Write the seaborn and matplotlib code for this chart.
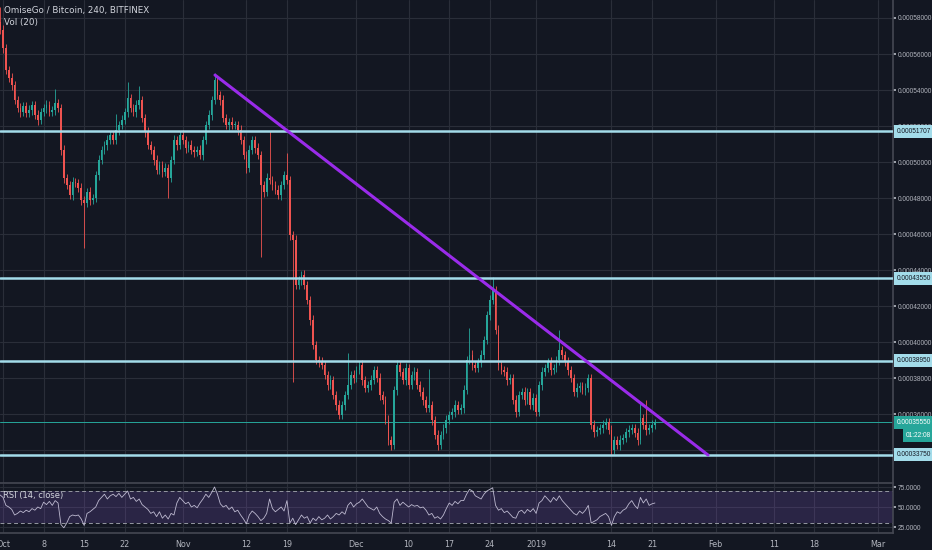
import numpy as np
import pandas as pd
import matplotlib
matplotlib.use("Agg")
import matplotlib.pyplot as plt
import matplotlib.dates as mdates
import matplotlib.transforms as mtransforms
from matplotlib import font_manager
import seaborn as sns

# 12h candles, prices in 1e-6 BTC
start = "2018-09-30 12:00"
close = [573.3, 563.3, 551.1, 546.7, 542.8, 534.4, 530.0, 527.8, 531.1, 527.2,
         528.9, 531.7, 526.1, 523.3, 527.8, 530.0, 531.7, 527.8, 528.9, 532.8,
         530.0, 506.7, 491.1, 487.2, 481.7, 488.9, 488.3, 485.6, 478.9, 477.2,
         483.3, 478.9, 480.0, 492.8, 501.1, 506.7, 509.4, 512.2, 515.0, 512.2,
         517.8, 520.6, 523.3, 527.8, 535.6, 530.0, 527.8, 531.7, 534.4, 524.4,
         516.7, 509.4, 506.7, 501.1, 495.6, 498.3, 494.4, 496.7, 491.1, 501.1,
         512.2, 509.4, 515.0, 512.2, 507.8, 509.4, 506.7, 505.6, 506.7, 503.9,
         512.2, 520.6, 526.1, 534.4, 545.6, 537.2, 534.4, 524.4, 520.6, 522.2,
         520.6, 520.6, 517.8, 512.2, 503.9, 496.7, 506.7, 512.2, 507.8, 503.9,
         487.2, 483.3, 491.1, 490.0, 487.2, 484.4, 481.7, 487.2, 492.8, 490.0,
         459.4, 456.7, 431.7, 434.4, 437.2, 431.7, 423.3, 412.2, 398.3, 390.0,
         388.9, 387.2, 381.7, 376.1, 378.9, 370.6, 365.0, 359.4, 365.0, 370.6,
         376.1, 381.7, 380.0, 384.4, 387.2, 378.9, 374.4, 376.1, 378.9, 384.4,
         380.0, 370.6, 367.8, 356.7, 345.6, 342.8, 373.3, 387.2, 383.3, 378.9,
         385.6, 376.1, 381.7, 383.3, 376.1, 372.2, 367.8, 363.3, 365.0, 356.7,
         348.3, 342.8, 348.3, 352.2, 356.7, 359.4, 361.1, 365.0, 362.2, 363.3,
         373.3, 390.0, 392.8, 387.2, 385.6, 388.9, 392.8, 401.1, 415.0, 423.3,
         428.9, 406.7, 387.2, 384.4, 383.3, 378.9, 380.0, 367.8, 361.1, 370.6,
         372.2, 367.8, 372.2, 365.0, 368.9, 361.1, 376.1, 383.3, 385.6, 388.9,
         384.4, 385.6, 390.0, 395.6, 392.8, 388.9, 384.4, 380.0, 372.2, 374.4,
         375.6, 373.3, 374.4, 380.0, 353.9, 350.0, 351.1, 352.2, 353.9, 355.6,
         351.1, 340.0, 345.6, 342.8, 345.6, 346.7, 350.0, 351.1, 352.2, 349.4,
         345.6, 357.8, 353.9, 351.1, 352.2, 353.9, 355.5]
first_open = 578.0
wick_up = [8, 3, 2, 2, 3, 2, 2, 3, 2, 2,
           3, 2, 2, 3, 2, 2, 3, 2, 2, 8,
           2, 2, 3, 2, 2, 3, 2, 2, 3, 2,
           2, 3, 2, 2, 3, 2, 2, 3, 2, 2,
           9, 2, 3, 2, 9, 2, 2, 3, 8, 2,
           2, 3, 2, 2, 3, 2, 2, 3, 2, 2,
           3, 2, 2, 3, 2, 2, 3, 2, 2, 3,
           2, 2, 3, 2, 4, 2, 2, 3, 2, 2,
           3, 2, 2, 3, 2, 2, 3, 2, 2, 3,
           2, 2, 3, 26, 2, 2, 3, 2, 2, 12,
           2, 2, 3, 2, 2, 3, 2, 2, 3, 2,
           2, 3, 2, 2, 3, 2, 2, 3, 2, 2,
           18, 2, 3, 2, 2, 3, 2, 2, 3, 2,
           2, 3, 2, 2, 3, 2, 2, 3, 2, 2,
           3, 2, 2, 3, 2, 2, 3, 2, 20, 2,
           2, 3, 2, 2, 3, 2, 2, 3, 2, 2,
           3, 2, 15, 3, 2, 2, 3, 2, 2, 3,
           7, 2, 3, 2, 2, 3, 2, 2, 3, 2,
           2, 3, 2, 2, 3, 2, 2, 3, 2, 2,
           3, 2, 2, 11, 2, 2, 3, 2, 2, 3,
           2, 2, 3, 2, 2, 3, 2, 2, 3, 2,
           2, 3, 2, 2, 3, 2, 2, 3, 2, 2,
           3, 8, 2, 14, 2, 3, 2]
wick_dn = [2, 3, 2, 2, 3, 2, 2, 3, 2, 2,
           2, 3, 2, 3, 2, 2, 3, 2, 2, 3,
           2, 3, 3, 2, 2, 3, 2, 2, 3, 25,
           2, 3, 2, 2, 3, 2, 2, 3, 2, 2,
           2, 3, 2, 2, 3, 2, 2, 3, 2, 2,
           3, 2, 2, 3, 2, 2, 3, 2, 11, 2,
           2, 3, 2, 2, 3, 2, 2, 3, 2, 2,
           3, 2, 2, 3, 2, 2, 3, 2, 2, 3,
           2, 2, 3, 2, 2, 3, 2, 2, 3, 2,
           40, 3, 2, 2, 3, 2, 2, 3, 2, 2,
           3, 79, 2, 2, 3, 2, 2, 3, 2, 2,
           3, 2, 2, 3, 2, 2, 3, 2, 2, 3,
           2, 2, 3, 2, 2, 3, 2, 2, 3, 2,
           2, 3, 2, 2, 3, 3, 2, 3, 2, 2,
           3, 2, 2, 3, 2, 2, 3, 2, 2, 3,
           2, 3, 2, 2, 3, 2, 2, 3, 2, 2,
           3, 2, 2, 3, 2, 2, 3, 2, 2, 3,
           2, 2, 3, 2, 2, 3, 2, 2, 3, 2,
           2, 3, 2, 2, 3, 2, 2, 3, 2, 2,
           3, 2, 2, 3, 2, 2, 3, 2, 2, 3,
           2, 2, 3, 2, 2, 3, 2, 2, 3, 2,
           2, 3, 2, 2, 3, 2, 2, 3, 2, 2,
           3, 2, 2, 3, 2, 2, 2]
rsi = [65, 62, 52, 50, 47, 40, 42, 45, 43, 46,
       44, 48, 46, 50, 48, 56, 53, 57, 52, 58,
       55, 28, 24, 30, 38, 40, 39, 40, 35, 27,
       42, 44, 47, 50, 58, 62, 66, 60, 64, 66,
       63, 67, 62, 66, 70, 60, 62, 57, 60, 53,
       50, 47, 42, 44, 38, 44, 36, 40, 35, 42,
       40, 55, 62, 58, 54, 56, 50, 52, 49, 55,
       60, 66, 62, 68, 75, 66, 54, 50, 52, 47,
       50, 44, 46, 40, 35, 29, 40, 45, 42, 38,
       33, 36, 42, 60, 48, 44, 47, 50, 45, 58,
       30, 36, 28, 34, 40, 36, 38, 30, 36, 33,
       38, 34, 36, 40, 35, 38, 42, 40, 44, 41,
       52, 56, 50, 54, 56, 60, 55, 50, 48, 46,
       50, 42, 38, 35, 33, 30, 56, 60, 52, 56,
       53, 50, 53, 51, 52, 49, 50, 46, 40, 42,
       36, 38, 35, 40, 48, 55, 52, 57, 54, 58,
       58, 66, 72, 70, 64, 62, 60, 66, 70, 72,
       74, 52, 46, 48, 43, 45, 41, 37, 36, 44,
       46, 42, 47, 44, 48, 42, 55, 58, 64, 60,
       56, 62, 58, 64, 58, 54, 50, 46, 42, 40,
       45, 42, 46, 52, 30, 32, 34, 38, 40, 42,
       38, 27, 38, 44, 42, 46, 48, 54, 58, 52,
       48, 62, 55, 60, 52, 54, 55]

levels = [0.00051707, 0.00043550, 0.00038950, 0.00033750]
last_price = 0.00035550
countdown = "01:22:08"
trend_dates = ["2018-11-06 14:00", "2019-01-30 16:00"]
trend_prices = [0.0005483, 0.0003372]

price_ticks = [0.00034, 0.00036, 0.00038, 0.00040, 0.00042, 0.00044, 0.00046,
               0.00048, 0.00050, 0.00052, 0.00054, 0.00056, 0.00058]
rsi_ticks = [25, 50, 75]
date_ticks = ["2018-10-01", "2018-10-08", "2018-10-15", "2018-10-22", "2018-11-01",
              "2018-11-12", "2018-11-19", "2018-12-01", "2018-12-10", "2018-12-17",
              "2018-12-24", "2019-01-01", "2019-01-14", "2019-01-21", "2019-02-01",
              "2019-02-11", "2019-02-18", "2019-03-01"]
date_labels = ["Oct", "8", "15", "22", "Nov", "12", "19", "Dec", "10", "17",
               "24", "2019", "14", "21", "Feb", "11", "18", "Mar"]

BG = "#131722"
GRID = "#2a2e39"
TXT = "#b2b5be"
UP = "#26a69a"
DOWN = "#ef5350"
LEVEL = "#a3dcea"

df = pd.DataFrame({
    "date": pd.date_range(start, periods=len(close), freq="12h"),
    "close": np.array(close) * 1e-6,
})
df["open"] = np.concatenate([[first_open], close[:-1]]) * 1e-6
df["high"] = df[["open", "close"]].max(axis=1) + np.array(wick_up) * 1e-6
df["low"] = df[["open", "close"]].min(axis=1) - np.array(wick_dn) * 1e-6
df["rsi"] = rsi
df["x"] = mdates.date2num(df["date"])
up = df["close"] >= df["open"]
colors = np.where(up, UP, DOWN)

sns.set_theme(style="dark", rc={
    "axes.facecolor": BG, "figure.facecolor": BG, "axes.edgecolor": "#434651",
    "grid.color": GRID, "text.color": TXT, "xtick.color": TXT, "ytick.color": TXT,
})
plt.rcParams["font.family"] = ["DejaVu Sans"]

# narrow font for the price scale
names = {f.name for f in font_manager.fontManager.ttflist}
if "Liberation Sans Narrow" in names:
    SCALE_FONT, SCALE_SIZE = "Liberation Sans Narrow", 5.5
else:
    SCALE_FONT, SCALE_SIZE = "Liberation Sans", 4.7

fig = plt.figure(figsize=(9.32, 5.5), dpi=100)
ax = fig.add_axes([0, 67 / 550, 893 / 932, 483 / 550])
ax2 = fig.add_axes([0, 17 / 550, 893 / 932, 49 / 550], sharex=ax)

# candles
ax.vlines(df["x"], df["low"], df["high"], colors=colors, lw=0.6, zorder=3)
body = (df["close"] - df["open"]).abs().clip(lower=0.4e-6)
ax.bar(df["x"], body, bottom=df[["open", "close"]].min(axis=1), width=0.3,
       color=colors, linewidth=0, zorder=3)

# support levels and trend line
for lvl in levels:
    ax.axhline(lvl, color=LEVEL, lw=1.8, zorder=4)
ax.axhline(last_price, color=UP, lw=0.7, zorder=2)
trend = pd.DataFrame({"date": pd.to_datetime(trend_dates), "price": trend_prices})
sns.lineplot(data=trend, x="date", y="price", ax=ax, color="#9a2bea", lw=2.2, zorder=5)

xlim = mdates.date2num(pd.to_datetime(["2018-09-30 11:30", "2019-03-03 14:00"]))
ax.set_xlim(xlim)
ax.set_ylim(590 / 1e6 - 483 / 1.8 / 1e6, 0.000590)
ax.set_yticks(price_ticks)
ax.set_yticklabels([f"{t:.8f}" for t in price_ticks], family=SCALE_FONT)
ax.yaxis.tick_right()
ax.tick_params(axis="y", labelsize=SCALE_SIZE, length=2.5, pad=1.2, colors=TXT)
ax.tick_params(axis="x", bottom=False, labelbottom=False)
ax.set_xticks(mdates.date2num(pd.to_datetime(date_ticks)))
ax.grid(True, color=GRID, lw=0.8)
ax.set_xlabel("")
ax.set_ylabel("")
for s in ["top", "left"]:
    ax.spines[s].set_visible(False)
ax.spines["right"].set_color("#434651")
ax.spines["bottom"].set_color("#434651")

trans = mtransforms.blended_transform_factory(ax.transAxes, ax.transData)
box = dict(boxstyle="square,pad=0.45", ec="none")
for lvl in levels:
    ax.text(1.004, lvl, f"{lvl:.8f}", transform=trans, fontsize=SCALE_SIZE,
            family=SCALE_FONT, color="#131722", va="center", ha="left",
            clip_on=False, zorder=10, bbox={**box, "fc": LEVEL})
ax.text(1.004, last_price, f"{last_price:.8f}", transform=trans, fontsize=SCALE_SIZE,
        family=SCALE_FONT, color="white", va="center", ha="left", clip_on=False,
        zorder=10, bbox={**box, "fc": UP})
ax.annotate(countdown, xy=(1.0, last_price), xycoords=trans, xytext=(9, -9.5),
            textcoords="offset points", fontsize=SCALE_SIZE, family=SCALE_FONT,
            color="white", va="center", ha="left", annotation_clip=False, zorder=10,
            bbox={**box, "fc": UP})

ax.text(4 / 893, 1 - 10 / 483, "OmiseGo / Bitcoin, 240, BITFINEX", transform=ax.transAxes,
        fontsize=6.3, color="#d1d4dc", va="center", ha="left")
ax.text(4 / 893, 1 - 22 / 483, "Vol (20)", transform=ax.transAxes,
        fontsize=6.3, color="#d1d4dc", va="center", ha="left")

# RSI pane
ax2.axhspan(30, 70, color="#7e57c2", alpha=0.22, lw=0, zorder=1)
ax2.axhline(70, color="#9598a1", lw=0.7, ls=(0, (4, 3)), zorder=2)
ax2.axhline(30, color="#9598a1", lw=0.7, ls=(0, (4, 3)), zorder=2)
sns.lineplot(data=df, x="date", y="rsi", ax=ax2, color="#bdb9d0", lw=0.6, zorder=3)
ax2.set_ylim(17.5, 78.75)
ax2.set_yticks(rsi_ticks)
ax2.set_yticklabels([f"{t:.4f}" for t in rsi_ticks], family=SCALE_FONT)
ax2.yaxis.tick_right()
ax2.tick_params(axis="y", labelsize=SCALE_SIZE, length=2.5, pad=1.2, colors=TXT)
ax2.set_xticks(mdates.date2num(pd.to_datetime(date_ticks)))
ax2.set_xticklabels(date_labels)
ax2.tick_params(axis="x", labelsize=5.8, length=0, pad=5, colors=TXT)
ax2.set_xlim(xlim)
ax2.grid(True, color=GRID, lw=0.8)
ax2.set_xlabel("")
ax2.set_ylabel("")
for s in ["top", "left"]:
    ax2.spines[s].set_visible(False)
ax2.spines["right"].set_color("#434651")
ax2.spines["bottom"].set_color("#434651")
ax2.text(3 / 893, 0.77, "RSI (14, close)", transform=ax2.transAxes, fontsize=6.0,
         color="#d1d4dc", va="center", ha="left")

fig.savefig("out.png", dpi=100, facecolor=BG)
